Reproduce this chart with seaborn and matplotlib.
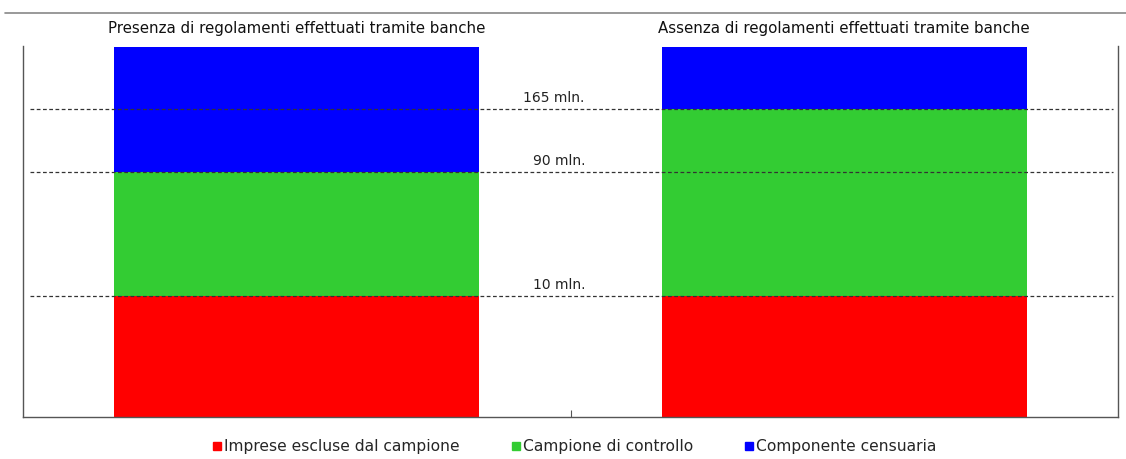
import matplotlib
matplotlib.use("Agg")
import matplotlib.pyplot as plt
from matplotlib.lines import Line2D
import seaborn as sns
import pandas as pd
import numpy as np

# Data (relative heights)
groups = ["Presenza di regolamenti effettuati tramite banche",
          "Assenza di regolamenti effettuati tramite banche"]
series = ["Imprese escluse dal campione", "Campione di controllo", "Componente censuaria"]
imprese_escluse = [121, 121]
campione_controllo = [124, 187]
componente_censuaria = [125, 62]
colors = ["#ff0000", "#33cc33", "#0000ff"]
threshold_labels = ["10 mln.", "90 mln.", "165 mln."]
threshold_values = [121, 245, 308]

sns.set_theme(style="white")
plt.rcParams['font.family'] = ['DejaVu Sans']

fig = plt.figure(figsize=(11.26, 4.59), dpi=100)
ax = fig.add_axes([23/1126, 1 - 417/459, (1118-23)/1126, (417-46)/459])

vals = np.array([imprese_escluse, campione_controllo, componente_censuaria], dtype=float)
cum = np.cumsum(vals, axis=0)
for i in [2, 1, 0]:
    df = pd.DataFrame({"group": groups, "value": cum[i]})
    sns.barplot(data=df, x="group", y="value", color=colors[i], saturation=1,
                width=0.667, ax=ax, linewidth=0, order=groups)

ax.set_xlim(-0.5, 1.5)
ax.set_ylim(0, 371)
ax.set_xlabel("")
ax.set_ylabel("")
ax.set_yticks([])
ax.set_xticks([0.5])
ax.set_xticklabels([])
ax.tick_params(axis="x", direction="in", length=5, width=0.8, color="#555555", bottom=True)
for s in ["left", "right", "bottom"]:
    ax.spines[s].set_visible(True)
    ax.spines[s].set_color("#555555")
    ax.spines[s].set_linewidth(1.0)
ax.spines["top"].set_visible(False)

for v, lab, lx in zip(threshold_values, threshold_labels, [0.48, 0.48, 0.47]):
    ax.plot([-0.487, 1.49], [v, v], ls=(0, (3, 2)), color="#333333", lw=0.9)
    ax.text(lx, v + 4, lab, ha="center", va="bottom", fontsize=10, color="#222222")

for i, g in enumerate(groups):
    ax.text(i, 388, g, ha="center", va="center", fontsize=10.8, color="#111111", clip_on=False)

fig.add_artist(Line2D([5/1126, 1], [1 - 12.5/459] * 2, color="#888888", lw=1.2))

handles = [Line2D([], [], marker="s", ls="", color=c, markersize=6) for c in colors]
fig.legend(handles, series, loc="center", bbox_to_anchor=(574/1126, 1 - 447/459),
           ncol=3, frameon=False, fontsize=11.2, handletextpad=0.05, columnspacing=3.2,
           handlelength=0.8)

fig.savefig("out.png", dpi=100)
